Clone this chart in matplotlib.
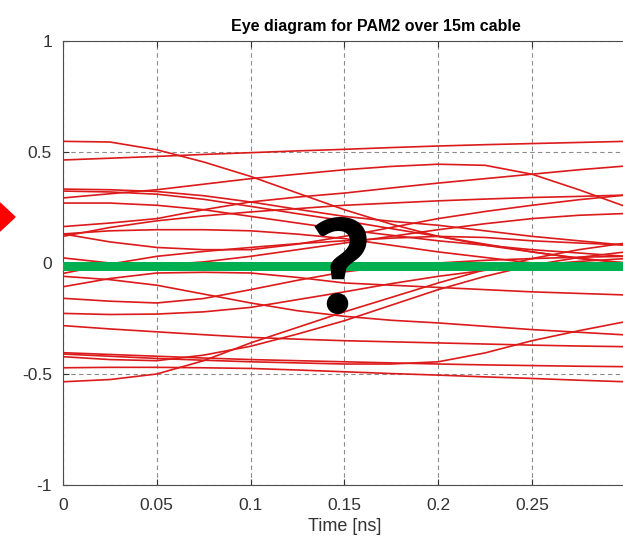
import matplotlib
matplotlib.use("Agg")
import matplotlib.pyplot as plt
from matplotlib.patches import Polygon

plt.rcParams['font.family'] = ['Liberation Sans', 'DejaVu Sans']

t_ns = [0, 0.025, 0.05, 0.075, 0.1, 0.125, 0.15, 0.175, 0.2, 0.225, 0.25, 0.275, 0.3]

# eye traces, upper half at t=0
trace_01 = [0.548, 0.545, 0.51, 0.455, 0.39, 0.315, 0.24, 0.175, 0.12, 0.08, 0.05, 0.02, 0.0]
trace_02 = [0.464, 0.472, 0.48, 0.489, 0.497, 0.505, 0.512, 0.52, 0.527, 0.533, 0.538, 0.543, 0.548]
trace_03 = [0.333, 0.33, 0.322, 0.303, 0.275, 0.242, 0.21, 0.188, 0.17, 0.145, 0.12, 0.1, 0.08]
trace_04 = [0.324, 0.32, 0.31, 0.287, 0.255, 0.222, 0.19, 0.155, 0.12, 0.085, 0.05, 0.022, 0.0]
trace_05 = [0.293, 0.312, 0.33, 0.355, 0.38, 0.40, 0.42, 0.435, 0.445, 0.44, 0.40, 0.33, 0.254]
trace_06 = [0.164, 0.18, 0.20, 0.24, 0.275, 0.297, 0.315, 0.338, 0.36, 0.38, 0.40, 0.42, 0.437]
trace_07 = [0.27, 0.27, 0.26, 0.24, 0.21, 0.18, 0.15, 0.125, 0.10, 0.08, 0.06, 0.045, 0.03]
trace_08 = [0.131, 0.145, 0.15, 0.15, 0.145, 0.13, 0.11, 0.08, 0.05, 0.025, 0.0, -0.012, -0.02]
trace_09 = [0.131, 0.095, 0.07, 0.06, 0.06, 0.085, 0.12, 0.16, 0.20, 0.232, 0.26, 0.285, 0.306]
trace_10 = [0.12, 0.16, 0.19, 0.212, 0.23, 0.245, 0.26, 0.27, 0.28, 0.288, 0.295, 0.30, 0.306]
trace_11 = [0.023, 0.0, -0.01, 0.005, 0.03, 0.06, 0.09, 0.12, 0.15, 0.177, 0.20, 0.215, 0.223]
# lower half at t=0
trace_12 = [-0.047, -0.005, 0.03, 0.052, 0.07, 0.087, 0.10, 0.112, 0.12, 0.115, 0.10, 0.09, 0.081]
trace_13 = [-0.06, -0.075, -0.10, -0.14, -0.18, -0.215, -0.24, -0.258, -0.27, -0.285, -0.30, -0.312, -0.324]
trace_14 = [-0.107, -0.07, -0.045, -0.042, -0.045, -0.065, -0.09, -0.10, -0.11, -0.12, -0.13, -0.137, -0.144]
trace_15 = [-0.159, -0.172, -0.18, -0.16, -0.12, -0.078, -0.04, -0.015, 0.0, 0.012, 0.02, 0.026, 0.03]
trace_16 = [-0.227, -0.232, -0.23, -0.22, -0.20, -0.165, -0.13, -0.093, -0.06, -0.033, -0.01, 0.007, 0.02]
trace_17 = [-0.282, -0.297, -0.31, -0.323, -0.335, -0.343, -0.35, -0.355, -0.36, -0.365, -0.37, -0.374, -0.377]
trace_18 = [-0.404, -0.412, -0.42, -0.428, -0.435, -0.44, -0.445, -0.45, -0.455, -0.459, -0.462, -0.465, -0.467]
trace_19 = [-0.41, -0.42, -0.43, -0.438, -0.445, -0.45, -0.455, -0.455, -0.445, -0.405, -0.35, -0.305, -0.264]
trace_20 = [-0.422, -0.435, -0.44, -0.415, -0.375, -0.32, -0.26, -0.19, -0.12, -0.06, -0.01, 0.025, 0.05]
trace_21 = [-0.472, -0.47, -0.47, -0.472, -0.475, -0.482, -0.49, -0.498, -0.505, -0.513, -0.52, -0.528, -0.535]
trace_22 = [-0.535, -0.525, -0.50, -0.44, -0.36, -0.29, -0.22, -0.155, -0.09, -0.03, 0.02, 0.06, 0.09]

traces = [trace_01, trace_02, trace_03, trace_04, trace_05, trace_06,
          trace_07, trace_08, trace_09, trace_10, trace_11, trace_12,
          trace_13, trace_14, trace_15, trace_16, trace_17, trace_18,
          trace_19, trace_20, trace_21, trace_22]

threshold = -0.013  # the green decision line

x_ticks = [0, 0.05, 0.1, 0.15, 0.2, 0.25]
x_tick_labels = ['0', '0.05', '0.1', '0.15', '0.2', '0.25']
y_ticks = [-1, -0.5, 0, 0.5, 1]
y_tick_labels = ['-1', '-0.5', '0', '0.5', '1']

fig = plt.figure(figsize=(6.23, 5.36), dpi=100)
# axes goes a bit past the right edge, the picture is cut there
ax = fig.add_axes([63 / 623, 51 / 536, 562.8 / 623, 444 / 536])

for tr in traces:
    ax.plot(t_ns, tr, color='#dc1a1a', linewidth=1.2, zorder=2)

ax.axhline(threshold, color='#00b050', linewidth=6.5, zorder=3)

ax.text(0.148, -0.225, '?', fontsize=95, fontweight='black', color='black',
        ha='center', va='baseline', family=['Lato', 'DejaVu Sans'], zorder=4)

ax.set_xlim(0, 0.3)
ax.set_ylim(-1, 1)
ax.set_xticks(x_ticks)
ax.set_xticklabels(x_tick_labels)
ax.set_yticks(y_ticks)
ax.set_yticklabels(y_tick_labels)
ax.tick_params(direction='in', length=4, labelsize=12.5, colors='#333333',
               labelcolor='#333333', top=True)
ax.tick_params(axis='x', pad=9)
ax.tick_params(axis='y', pad=8)
ax.grid(True, linestyle=(0, (4, 3)), color='#8c8c8c', linewidth=0.8)
for side in ['left', 'bottom', 'top']:
    ax.spines[side].set_color('#4d4d4d')
ax.spines['right'].set_visible(False)

ax.set_xlabel('Time [ns]', fontsize=13, color='#333333', labelpad=4)
ax.set_title('Eye diagram for PAM2 over 15m cable', fontsize=11.5,
             fontweight='bold', x=0.556, pad=7)

# red pointer sticking in from the left edge
fig.add_artist(Polygon([[0, 333 / 536], [15 / 623, 319 / 536], [0, 305 / 536]],
                       closed=True, color='#ff0000', transform=fig.transFigure))

fig.savefig('out.png', dpi=100)
